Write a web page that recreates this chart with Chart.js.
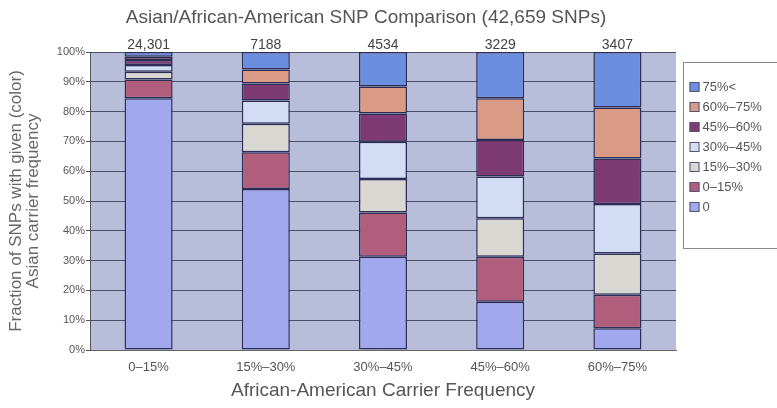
<!DOCTYPE html>
<html lang="en">

<head>
  <meta charset="UTF-8">
  <title>Asian/African-American SNP Comparison</title>
  <script src="https://cdn.jsdelivr.net/npm/chart.js"></script>
  <style>
    html, body {
      margin: 0;
      padding: 0;
      background: #ffffff;
    }

    #chartBox {
      width: 777px;
      height: 408px;
    }
  </style>
</head>

<body>
  <div id="chartBox">
    <canvas id="snpCanvas"></canvas>
  </div>

  <script>
    // African-American carrier frequency bins (x axis)
    const categories = ['0–15%', '15%–30%', '30%–45%', '45%–60%', '60%–75%'];
    // SNP count in each bin, printed above the bars
    const snpCounts = ['24,301', '7188', '4534', '3229', '3407'];

    // Share (%) of SNPs in each bin by Asian carrier frequency, bottom to top
    const asian0 = [84.5, 54.0, 31.3, 16.2, 7.3];
    const asian0to15 = [6.3, 12.4, 14.8, 15.1, 11.2];
    const asian15to30 = [2.6, 9.5, 11.3, 12.9, 13.9];
    const asian30to45 = [2.2, 7.8, 12.5, 14.0, 16.6];
    const asian45to60 = [1.7, 5.7, 9.5, 12.3, 15.3];
    const asian60to75 = [1.1, 4.7, 9.0, 14.0, 17.1];
    const asian75up = [1.6, 5.9, 11.6, 15.5, 18.6];

    const yTicks = [0, 10, 20, 30, 40, 50, 60, 70, 80, 90, 100];

    const FONT = "'Liberation Sans', Arial, sans-serif";
    const TEXT = '#555555';

    const series = [
      { label: '0', data: asian0, color: '#a2a8ee' },
      { label: '0–15%', data: asian0to15, color: '#b05e7c' },
      { label: '15%–30%', data: asian15to30, color: '#d9d7d2' },
      { label: '30%–45%', data: asian30to45, color: '#d2ddf5' },
      { label: '45%–60%', data: asian45to60, color: '#7d3a73' },
      { label: '60%–75%', data: asian60to75, color: '#d99a86' },
      { label: '75%<', data: asian75up, color: '#6b8fde' }
    ];

    // Plot background, title, bar totals and the boxed legend
    const extras = {
      id: 'extras',
      beforeDraw(chart) {
        const { ctx, chartArea: a } = chart;
        ctx.save();
        ctx.fillStyle = '#b8bed9';
        ctx.fillRect(a.left, a.top, a.right - a.left, a.bottom - a.top);
        ctx.restore();
      },
      afterDraw(chart) {
        const { ctx, chartArea: a, scales } = chart;
        ctx.save();

        ctx.fillStyle = TEXT;
        ctx.textAlign = 'center';
        ctx.textBaseline = 'middle';
        ctx.font = `19px ${FONT}`;
        ctx.fillText('Asian/African-American SNP Comparison (42,659 SNPs)', 366, 18);

        ctx.fillStyle = '#444444';
        ctx.font = `14px ${FONT}`;
        ctx.textBaseline = 'middle';
        snpCounts.forEach((c, i) => {
          ctx.fillText(c, scales.x.getPixelForValue(i), scales.y.getPixelForValue(100) - 7);
        });

        // legend box
        const lx = a.right + 7.5;
        ctx.strokeStyle = '#8a8a8a';
        ctx.lineWidth = 1;
        ctx.strokeRect(lx, 62.5, 110, 186);
        ctx.font = `13px ${FONT}`;
        ctx.textAlign = 'left';
        ctx.textBaseline = 'middle';
        const ds = chart.data.datasets.slice().reverse();
        ds.forEach((d, i) => {
          const y = 87 + i * 20;
          ctx.fillStyle = d.backgroundColor;
          ctx.fillRect(lx + 6, y - 5, 10, 10);
          ctx.strokeStyle = '#555577';
          ctx.strokeRect(lx + 6.5, y - 4.5, 9, 9);
          ctx.fillStyle = TEXT;
          ctx.fillText(d.label, lx + 19, y);
        });

        ctx.restore();
      }
    };

    const ctx = document.getElementById('snpCanvas').getContext('2d');
    new Chart(ctx, {
      type: 'bar',
      data: {
        labels: categories,
        datasets: series.map(s => ({
          label: s.label,
          data: s.data,
          backgroundColor: s.color,
          borderColor: '#2d2d55',
          borderWidth: 1.5,
          borderSkipped: false,
          barPercentage: 0.41,
          categoryPercentage: 1
        }))
      },
      options: {
        responsive: true,
        maintainAspectRatio: false,
        animation: false,
        layout: {
          padding: { top: 52, right: 101, left: 0, bottom: 0 }
        },
        scales: {
          x: {
            stacked: true,
            afterFit: (s) => { s.height = 58; },
            grid: { display: false },
            border: { display: true, color: '#666666' },
            ticks: { color: TEXT, font: { family: FONT, size: 13 }, padding: 2 },
            title: {
              display: true,
              text: 'African-American Carrier Frequency',
              color: TEXT,
              font: { family: FONT, size: 19 },
              padding: { top: 0, bottom: 6 }
            }
          },
          y: {
            stacked: true,
            min: 0,
            max: 100,
            afterFit: (s) => { s.width = 90; },
            afterBuildTicks: (s) => { s.ticks = yTicks.map(v => ({ value: v })); },
            grid: { color: '#4d4f66', lineWidth: 1, tickLength: 4, drawOnChartArea: true },
            border: { display: true, color: '#555555' },
            ticks: {
              color: TEXT,
              font: { family: FONT, size: 11 },
              padding: 1,
              callback: (v) => v + '%'
            },
            title: {
              display: true,
              text: ['Fraction of SNPs with given (color)', 'Asian carrier frequency'],
              color: '#666666',
              font: { family: FONT, size: 17, lineHeight: 1.0 },
              padding: { top: 8, bottom: 0 }
            }
          }
        },
        plugins: {
          legend: { display: false },
          tooltip: { enabled: false }
        }
      },
      plugins: [extras]
    });
  </script>
</body>

</html>
